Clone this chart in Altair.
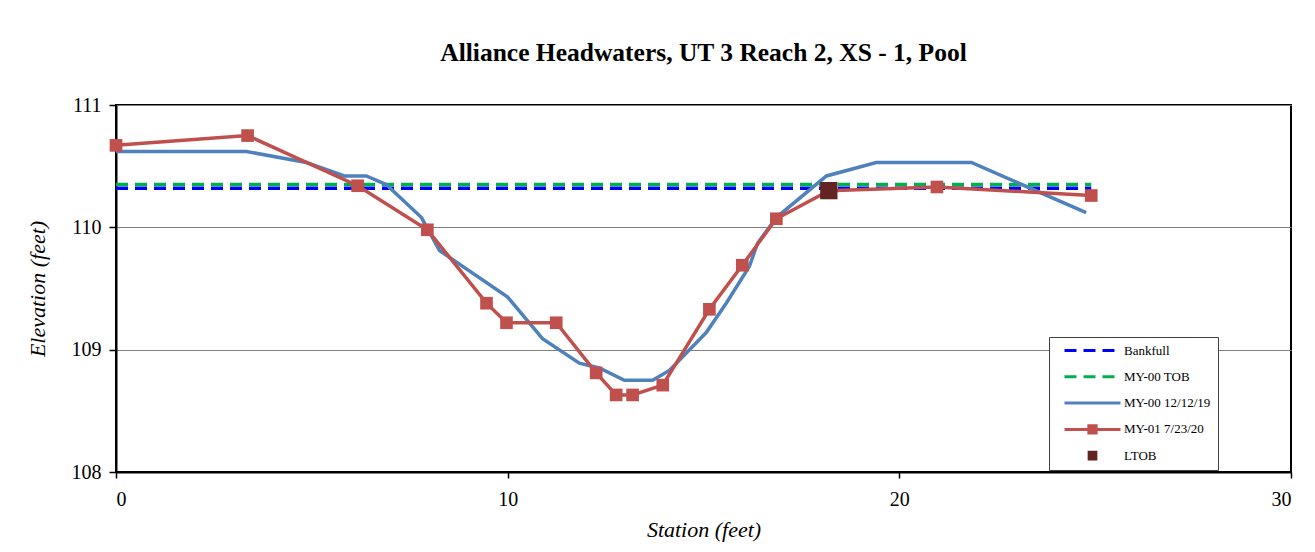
import altair as alt
import pandas as pd

FONT = "Liberation Serif"

# ---- data ----
bank_x = [0, 24.9]
bank_y = [110.32, 110.32]

tob_x = [0, 24.9]
tob_y = [110.35, 110.35]

my00_x = [0, 3.33, 4.86, 5.83, 6.39, 6.9, 7.8, 8.26, 10.0, 10.89, 11.83, 12.34,
          12.98, 13.7, 14.13, 15.07, 15.58, 16.17, 16.38, 16.86, 18.14, 19.41, 21.84, 24.77]
my00_y = [110.62, 110.62, 110.53, 110.42, 110.42, 110.35, 110.08, 109.81, 109.43, 109.09, 108.89, 108.85,
          108.75, 108.75, 108.83, 109.14, 109.38, 109.68, 109.87, 110.08, 110.42, 110.53, 110.53, 110.12]

my01_x = [0, 3.36, 6.17, 7.95, 9.46, 9.97, 11.24, 12.26, 12.77, 13.19, 13.96, 15.15,
          15.99, 16.86, 18.2, 20.96, 24.9]
my01_y = [110.67, 110.75, 110.34, 109.98, 109.38, 109.22, 109.22, 108.81, 108.63, 108.63, 108.71, 109.33,
          109.69, 110.07, 110.30, 110.33, 110.26]

ltob_x = [18.2]
ltob_y = [110.30]

series_names = ["Bankfull", "MY-00 TOB", "MY-00 12/12/19", "MY-01 7/23/20", "LTOB"]
series_colors = ["#0000FF", "#00B050", "#4F81BD", "#C0504D", "#632523"]
legend_fills = ["transparent", "transparent", "transparent", "#C0504D", "#632523"]
legend_shapes = [
    "M-1,0H1",
    "M-1,0H1",
    "M-1,0H1",
    "M-1,0H1M-0.13,-0.13H0.13V0.13H-0.13Z",
    "M-0.12,-0.12H0.12V0.12H-0.12Z",
]
DASH = [12, 7]
legend_dashes = [DASH, DASH, [1, 0], [1, 0], [1, 0]]

x_ticks = [0, 10, 20, 30]
y_ticks = [108, 109, 110, 111]

# ---- encodings ----
x_enc = alt.X(
    "x:Q",
    scale=alt.Scale(domain=[0, 30], nice=False),
    axis=alt.Axis(
        values=x_ticks, title="Station (feet)", grid=False, tickSize=6, tickColor="black",
        tickWidth=1.5, domainColor="black", domainWidth=2, labelFont=FONT, labelFontSize=20,
        labelColor="black", labelPadding=11, titleFont=FONT, titleFontSize=22,
        titleFontStyle="italic", titleFontWeight="normal", titleColor="black", titlePadding=10,
    ),
)
y_enc = alt.Y(
    "y:Q",
    scale=alt.Scale(domain=[108, 111], nice=False),
    axis=alt.Axis(
        values=y_ticks, format="d", title="Elevation (feet)", grid=True, gridColor="#7f7f7f",
        gridWidth=1, tickSize=7, tickColor="black", tickWidth=1.5, domainColor="black",
        domainWidth=2, labelFont=FONT, labelFontSize=20, labelColor="black", labelPadding=8,
        titleFont=FONT, titleFontSize=22, titleFontStyle="italic", titleFontWeight="normal",
        titleColor="black", titlePadding=22,
    ),
)


def frame(xs, ys):
    return pd.DataFrame({"x": xs, "y": ys})


bank = alt.Chart(frame(bank_x, bank_y)).mark_line(
    color=series_colors[0], strokeWidth=3.5, strokeDash=DASH
).encode(x=x_enc, y=y_enc)
tob = alt.Chart(frame(tob_x, tob_y)).mark_line(
    color=series_colors[1], strokeWidth=3.5, strokeDash=DASH
).encode(x=x_enc, y=y_enc)
my00 = alt.Chart(frame(my00_x, my00_y)).mark_line(
    color=series_colors[2], strokeWidth=3.5
).encode(x=x_enc, y=y_enc)
my01_line = alt.Chart(frame(my01_x, my01_y)).mark_line(
    color=series_colors[3], strokeWidth=3.5
).encode(x=x_enc, y=y_enc)
my01_pts = alt.Chart(frame(my01_x, my01_y)).mark_point(
    shape="square", filled=True, size=160, color=series_colors[3], opacity=1
).encode(x=x_enc, y=y_enc)
ltob = alt.Chart(frame(ltob_x, ltob_y)).mark_point(
    shape="square", filled=True, size=300, color=series_colors[4], opacity=1
).encode(x=x_enc, y=y_enc)

leg = alt.Legend(
    title=None, orient="none", legendX=933, legendY=232, direction="vertical",
    symbolSize=3136, symbolStrokeWidth=3, symbolOpacity=1,
    symbolFillColor="#000000", symbolStrokeColor="#000000",
    clipHeight=13, rowPadding=12.3, padding=7, symbolOffset=7, labelOffset=2,
    labelFont=FONT, labelFontSize=13, labelColor="black",
    strokeColor="#404040", fillColor="white",
)
legend_df = pd.DataFrame({"series": series_names})
dummy = alt.Chart(legend_df).mark_point(opacity=0).encode(
    fill=alt.Fill("series:N", scale=alt.Scale(domain=series_names, range=legend_fills), legend=leg),
    stroke=alt.Stroke("series:N", scale=alt.Scale(domain=series_names, range=series_colors), legend=leg),
    shape=alt.Shape("series:N", scale=alt.Scale(domain=series_names, range=legend_shapes), legend=leg),
    strokeDash=alt.StrokeDash("series:N", scale=alt.Scale(domain=series_names, range=legend_dashes), legend=leg),
)

chart = alt.layer(bank, tob, my00, my01_line, my01_pts, ltob, dummy).properties(
    width=1175,
    height=367,
    autosize="none",
    padding={"left": 108, "top": 97, "right": 16, "bottom": 72},
    background="white",
    title=alt.TitleParams(
        "Alliance Headwaters, UT 3 Reach 2, XS - 1, Pool",
        font=FONT, fontSize=25.5, fontWeight="bold", color="black", anchor="middle", offset=29,
    ),
).configure_view(stroke="black", strokeWidth=2)

chart.save("out.html", embed_options={"renderer": "svg", "actions": False})
